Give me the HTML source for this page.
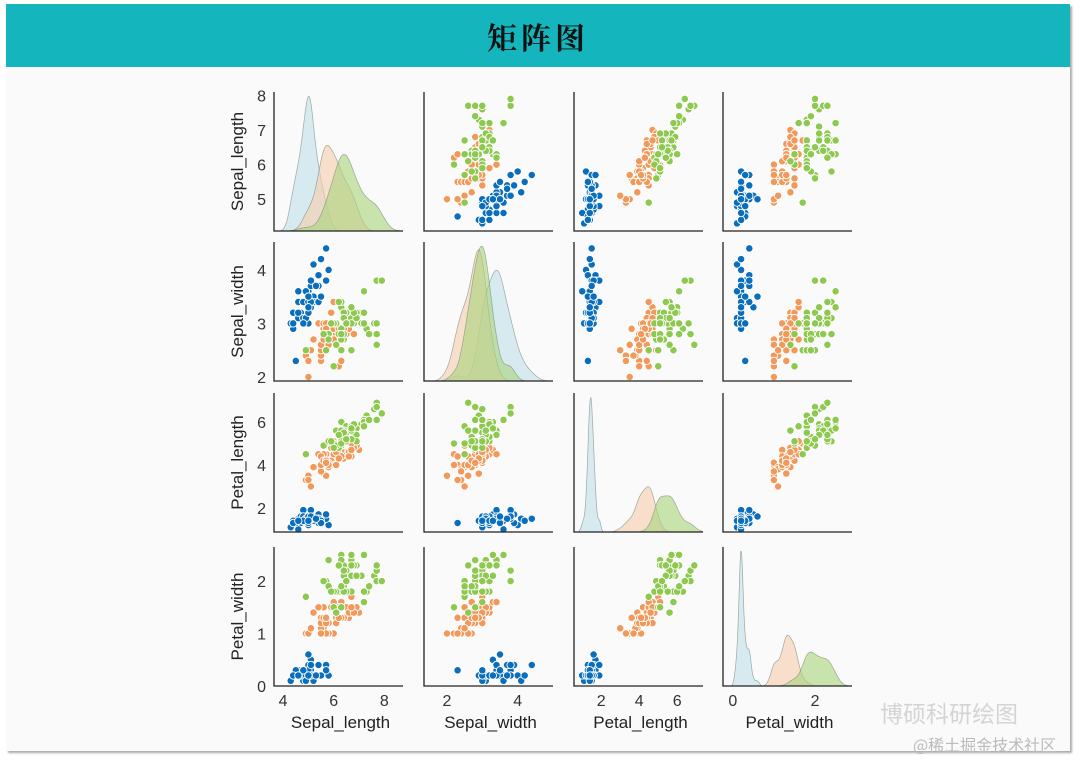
<!DOCTYPE html>
<html><head><meta charset="utf-8">
<style>
html,body{margin:0;padding:0;background:#fff;}
body{width:1080px;height:761px;position:relative;overflow:hidden;font-family:"Liberation Sans","Noto Sans CJK SC",sans-serif;}
#card{position:absolute;left:6px;top:4px;width:1064px;height:747px;background:#fafafa;box-shadow:2px 2px 2px #aaa;}
#banner{position:absolute;left:0;top:0;width:1064px;height:63px;background:#14b5bc;}
#title{position:absolute;left:0;top:10px;width:1064px;text-align:center;font-family:"Noto Serif CJK SC","WenQuanYi Zen Hei",serif;font-size:30px;font-weight:bold;color:#111;letter-spacing:4px;}
svg{position:absolute;left:0;top:0;}
</style></head>
<body>
<div id="card">
<div id="banner"><div id="title">矩阵图</div></div>
</div>
<svg id="chart" width="1080" height="761"></svg>
<script>
const variables = ["Sepal_length","Sepal_width","Petal_length","Petal_width"];
const speciesColors = ["#0a6ebd","#f0995a","#8dc84f"];
const kdeFills = ["#bfe0ea","#f6cdab","#a9d47a"];
const setosa = [[5.1,3.5,1.4,0.2],[4.9,3.0,1.4,0.2],[4.7,3.2,1.3,0.2],[4.6,3.1,1.5,0.2],[5.0,3.6,1.4,0.2],[5.4,3.9,1.7,0.4],[4.6,3.4,1.4,0.3],[5.0,3.4,1.5,0.2],[4.4,2.9,1.4,0.2],[4.9,3.1,1.5,0.1],[5.4,3.7,1.5,0.2],[4.8,3.4,1.6,0.2],[4.8,3.0,1.4,0.1],[4.3,3.0,1.1,0.1],[5.8,4.0,1.2,0.2],[5.7,4.4,1.5,0.4],[5.4,3.9,1.3,0.4],[5.1,3.5,1.4,0.3],[5.7,3.8,1.7,0.3],[5.1,3.8,1.5,0.3],[5.4,3.4,1.7,0.2],[5.1,3.7,1.5,0.4],[4.6,3.6,1.0,0.2],[5.1,3.3,1.7,0.5],[4.8,3.4,1.9,0.2],[5.0,3.0,1.6,0.2],[5.0,3.4,1.6,0.4],[5.2,3.5,1.5,0.2],[5.2,3.4,1.4,0.2],[4.7,3.2,1.6,0.2],[4.8,3.1,1.6,0.2],[5.4,3.4,1.5,0.4],[5.2,4.1,1.5,0.1],[5.5,4.2,1.4,0.2],[4.9,3.1,1.5,0.2],[5.0,3.2,1.2,0.2],[5.5,3.5,1.3,0.2],[4.9,3.6,1.4,0.1],[4.4,3.0,1.3,0.2],[5.1,3.4,1.5,0.2],[5.0,3.5,1.3,0.3],[4.5,2.3,1.3,0.3],[4.4,3.2,1.3,0.2],[5.0,3.5,1.6,0.6],[5.1,3.8,1.9,0.4],[4.8,3.0,1.4,0.3],[5.1,3.8,1.6,0.2],[4.6,3.2,1.4,0.2],[5.3,3.7,1.5,0.2],[5.0,3.3,1.4,0.2]];
const versicolor = [[7.0,3.2,4.7,1.4],[6.4,3.2,4.5,1.5],[6.9,3.1,4.9,1.5],[5.5,2.3,4.0,1.3],[6.5,2.8,4.6,1.5],[5.7,2.8,4.5,1.3],[6.3,3.3,4.7,1.6],[4.9,2.4,3.3,1.0],[6.6,2.9,4.6,1.3],[5.2,2.7,3.9,1.4],[5.0,2.0,3.5,1.0],[5.9,3.0,4.2,1.5],[6.0,2.2,4.0,1.0],[6.1,2.9,4.7,1.4],[5.6,2.9,3.6,1.3],[6.7,3.1,4.4,1.4],[5.6,3.0,4.5,1.5],[5.8,2.7,4.1,1.0],[6.2,2.2,4.5,1.5],[5.6,2.5,3.9,1.1],[5.9,3.2,4.8,1.8],[6.1,2.8,4.0,1.3],[6.3,2.5,4.9,1.5],[6.1,2.8,4.7,1.2],[6.4,2.9,4.3,1.3],[6.6,3.0,4.4,1.4],[6.8,2.8,4.8,1.4],[6.7,3.0,5.0,1.7],[6.0,2.9,4.5,1.5],[5.7,2.6,3.5,1.0],[5.5,2.4,3.8,1.1],[5.5,2.4,3.7,1.0],[5.8,2.7,3.9,1.2],[6.0,2.7,5.1,1.6],[5.4,3.0,4.5,1.5],[6.0,3.4,4.5,1.6],[6.7,3.1,4.7,1.5],[6.3,2.3,4.4,1.3],[5.6,3.0,4.1,1.3],[5.5,2.5,4.0,1.3],[5.5,2.6,4.4,1.2],[6.1,3.0,4.6,1.4],[5.8,2.6,4.0,1.2],[5.0,2.3,3.3,1.0],[5.6,2.7,4.2,1.3],[5.7,3.0,4.2,1.2],[5.7,2.9,4.2,1.3],[6.2,2.9,4.3,1.3],[5.1,2.5,3.0,1.1],[5.7,2.8,4.1,1.3]];
const virginica = [[6.3,3.3,6.0,2.5],[5.8,2.7,5.1,1.9],[7.1,3.0,5.9,2.1],[6.3,2.9,5.6,1.8],[6.5,3.0,5.8,2.2],[7.6,3.0,6.6,2.1],[4.9,2.5,4.5,1.7],[7.3,2.9,6.3,1.8],[6.7,2.5,5.8,1.8],[7.2,3.6,6.1,2.5],[6.5,3.2,5.1,2.0],[6.4,2.7,5.3,1.9],[6.8,3.0,5.5,2.1],[5.7,2.5,5.0,2.0],[5.8,2.8,5.1,2.4],[6.4,3.2,5.3,2.3],[6.5,3.0,5.5,1.8],[7.7,3.8,6.7,2.2],[7.7,2.6,6.9,2.3],[6.0,2.2,5.0,1.5],[6.9,3.2,5.7,2.3],[5.6,2.8,4.9,2.0],[7.7,2.8,6.7,2.0],[6.3,2.7,4.9,1.8],[6.7,3.3,5.7,2.1],[7.2,3.2,6.0,1.8],[6.2,2.8,4.8,1.8],[6.1,3.0,4.9,1.8],[6.4,2.8,5.6,2.1],[7.2,3.0,5.8,1.6],[7.4,2.8,6.1,1.9],[7.9,3.8,6.4,2.0],[6.4,2.8,5.6,2.2],[6.3,2.8,5.1,1.5],[6.1,2.6,5.6,1.4],[7.7,3.0,6.1,2.3],[6.3,3.4,5.6,2.4],[6.4,3.1,5.5,1.8],[6.0,3.0,4.8,1.8],[6.9,3.1,5.4,2.1],[6.7,3.1,5.6,2.4],[6.9,3.1,5.1,2.3],[5.8,2.7,5.1,1.9],[6.8,3.2,5.9,2.3],[6.7,3.3,5.7,2.5],[6.7,3.0,5.2,2.3],[6.3,2.5,5.0,1.9],[6.5,3.0,5.2,2.0],[6.2,3.4,5.4,2.3],[5.9,3.0,5.1,1.8]];
const xTicks = [[4,6,8],[2,4],[2,4,6],[0,2]];
const yTicks = [[5,6,7,8],[2,3,4],[2,4,6],[0,1,2]];
const xDomains = [[3.64,8.74],[1.35,5.0],[0.57,7.36],[-0.24,2.9]];
const yDomains = [[4.08,8.1],[1.925,4.52],[0.88,7.35],[0,2.65]];

const NS="http://www.w3.org/2000/svg";
const svg=document.getElementById('chart');
const colLeft=[274,424,574,723], W=129;
const rowBottom=[231,381,532,686], H=139;
function mk(tag,attrs,parent){const e=document.createElementNS(NS,tag);for(const k in attrs)e.setAttribute(k,attrs[k]);(parent||svg).appendChild(e);return e;}
function xScale(c,v){const d=xDomains[c];return colLeft[c]+(v-d[0])/(d[1]-d[0])*W;}
function yScale(r,v){const d=yDomains[r];return rowBottom[r]-(v-d[0])/(d[1]-d[0])*H;}
const groups=[setosa,versicolor,virginica];

function kde(vals,x){const n=vals.length;const m=vals.reduce((a,b)=>a+b,0)/n;const sd=Math.sqrt(vals.reduce((a,b)=>a+(b-m)*(b-m),0)/(n-1));const bw=sd*Math.pow(n,-0.2);let s=0;for(const v of vals)s+=Math.exp(-0.5*((x-v)/bw)**2);return s/(n*bw*Math.sqrt(2*Math.PI));}

for(let r=0;r<4;r++){for(let c=0;c<4;c++){
  const g=mk('g',{});
  
  
  const L=colLeft[c],B=rowBottom[r];
  const clipId='clip'+r+c;
  const cp=mk('clipPath',{id:clipId},g);mk('rect',{x:L,y:B-H-5,width:W,height:H+5},cp);
  if(r===c){
    const xd=xDomains[c];const N=160;const curves=[];let mx=0;
    for(let s=0;s<3;s++){const vals=groups[s].map(p=>p[c]);const pts=[];for(let i=0;i<=N;i++){const x=xd[0]+(xd[1]-xd[0])*i/N;const d=kde(vals,x);mx=Math.max(mx,d);pts.push([x,d]);}curves.push(pts);}
    for(let s=0;s<3;s++){
      let d='M'+xScale(c,curves[s][0][0])+','+B;
      for(const p of curves[s])d+=' L'+xScale(c,p[0]).toFixed(1)+','+(B-p[1]/mx*H*0.97).toFixed(1);
      d+=' L'+xScale(c,xd[1])+','+B+' Z';
      const path=mk('path',{d:d,fill:kdeFills[s],'fill-opacity':0.6,stroke:'#7a8a80','stroke-width':0.7,'stroke-opacity':0.7,'clip-path':'url(#'+clipId+')'},g);
      
      
    }
  } else {
    for(let s=0;s<3;s++){for(const p of groups[s]){
      const ci=mk('circle',{cx:xScale(c,p[c]).toFixed(1),cy:yScale(r,p[r]).toFixed(1),r:3.7,fill:speciesColors[s],stroke:'#fff','stroke-width':0.9},g);
      
      
    }}
  }
  const ax=mk('path',{d:'M'+L+','+(B-H)+' L'+L+','+B+' L'+(L+W)+','+B,fill:'none',stroke:'#222','stroke-width':1.3},g);
  
  
}}
for(let r=0;r<4;r++){
  for(const t of yTicks[r]){
    const tx=mk('text',{x:266,y:yScale(r,t)+6,'text-anchor':'end','font-size':16,fill:'#333'});tx.textContent=t;
    
    
  }
  const cy=rowBottom[r]-H/2;
  const yt=mk('text',{x:0,y:0,transform:'translate(243,'+cy+') rotate(-90)','text-anchor':'middle','font-size':17,fill:'#222'});yt.textContent=variables[r];
  
  
}
for(let c=0;c<4;c++){
  for(const t of xTicks[c]){
    const tx=mk('text',{x:xScale(c,t),y:706,'text-anchor':'middle','font-size':16,fill:'#333'});tx.textContent=t;
    
    
  }
  const xt=mk('text',{x:colLeft[c]+W/2+2,y:728,'text-anchor':'middle','font-size':17,fill:'#222'});xt.textContent=variables[c];
  
  
}
const wm=mk('text',{x:880,y:722,'font-size':23,fill:'#d4d4d4','font-family':'"Noto Sans CJK SC",sans-serif'});wm.textContent='博硕科研绘图';


const wm2=mk('text',{x:913,y:751,'font-size':16,fill:'#bbb','font-family':'"Noto Sans CJK SC",sans-serif'});wm2.textContent='@稀土掘金技术社区';


</script>
</body></html>
